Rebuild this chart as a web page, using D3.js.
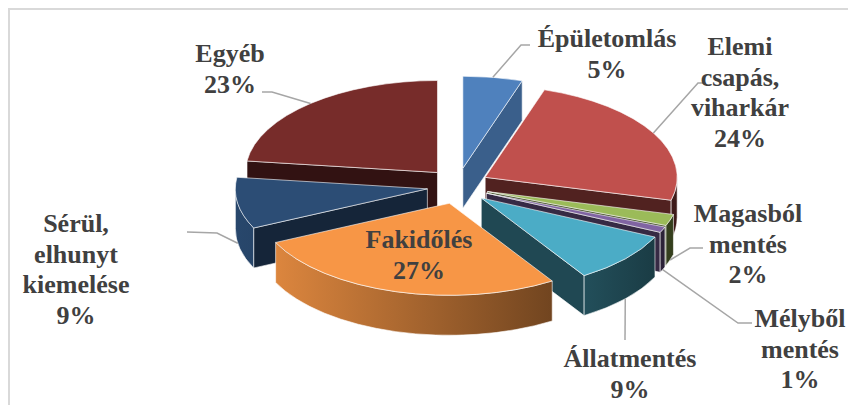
<!DOCTYPE html>
<html>
<head>
<meta charset="utf-8">
<script src="https://cdn.jsdelivr.net/npm/d3@7"></script>
<style>
  body { margin: 0; background: #fff; }
  .label { font-family: "Liberation Serif", "Times New Roman", serif; font-weight: bold; font-size: 26px; fill: #404040; }
</style>
</head>
<body>
<div id="chart"></div>
<script>
/*
Data (percent of calls)
*/
var categories = ["Épületomlás", "Elemi csapás, viharkár", "Magasból mentés", "Mélyből mentés",
	"Állatmentés", "Fakidőlés", "Sérül, elhunyt kiemelése", "Egyéb"];
var values = [5, 24, 2, 1, 9, 27, 9, 23];
var labelLines = [["Épületomlás"], ["Elemi", "csapás,", "viharkár"], ["Magasból", "mentés"],
	["Mélyből", "mentés"], ["Állatmentés"], ["Fakidőlés"], ["Sérül,", "elhunyt", "kiemelése"], ["Egyéb"]];
var colors = ["#4F81BD", "#C0504D", "#9BBB59", "#8064A2", "#4BACC6", "#F79646", "#2C4D75", "#772C2A"];

/*
Layout: label anchor (centre x, first baseline) and leader line bends
*/
var labelPos = [[607, 47], [740, 55], [748, 222], [800, 327], [630, 367], [419, 248], [76, 232], [230, 62]];
var leaderBends = [
	[[521, 45], [530, 45]],
	[[698, 83], [703, 83]],
	[[690, 248], [703, 248]],
	[[738, 323], [752, 323]],
	[[625, 340]],
	null,
	[[217, 233], [187, 232]],
	[[272, 92], [262, 92]]
];

var width = 848, height = 405;
var cx = 458, cy = 186, rx = 192, ry = 92, depth = 40;
var explodeX = 31, explodeY = 18;
var lineHeight = 30.5;

var svg = d3.select("#chart").append("svg")
	.attr("width", width)
	.attr("height", height);

// light frame of the chart area
svg.append("rect")
	.attr("x", 9).attr("y", 9)
	.attr("width", width + 20).attr("height", height + 20)
	.attr("fill", "none")
	.attr("stroke", "#d9d9d9")
	.attr("stroke-width", 2);

var defs = svg.append("defs");

var pie = d3.pie().sort(null).value(function(d) { return d; });
var arcs = pie(values).map(function(p, i) {
	var mid = (p.startAngle + p.endAngle) / 2;
	return {
		i: i, a0: p.startAngle, a1: p.endAngle, mid: mid,
		c: [cx + explodeX * Math.sin(mid), cy - explodeY * Math.cos(mid)]
	};
});

function rim(c, a, dy) {
	return [c[0] + rx * Math.sin(a), c[1] - ry * Math.cos(a) + (dy || 0)];
}

function shade(color, f) {
	var c = d3.rgb(color);
	return d3.rgb(c.r * f, c.g * f, c.b * f).formatHex();
}

// wall brightness: lighter on the left, darker on the right
var wallShade = d3.scaleLinear().domain([-1, 1]).range([0.92, 0.32]);

function radialShade(normal) {
	var s = Math.max(0, Math.sin(normal));
	return 0.42 + 0.35 * s * s;
}

function topPath(d) {
	var p0 = rim(d.c, d.a0), p1 = rim(d.c, d.a1);
	var large = (d.a1 - d.a0) > Math.PI ? 1 : 0;
	return "M" + d.c + "L" + p0 + "A" + rx + "," + ry + " 0 " + large + " 1 " + p1 + "Z";
}

function wallPath(d) {
	var s = Math.max(d.a0, Math.PI / 2), e = Math.min(d.a1, 3 * Math.PI / 2);
	if (s >= e) return null;
	return "M" + rim(d.c, s) + "A" + rx + "," + ry + " 0 0 1 " + rim(d.c, e) +
		"L" + rim(d.c, e, depth) + "A" + rx + "," + ry + " 0 0 0 " + rim(d.c, s, depth) + "Z";
}

function sidePath(d, a) {
	return "M" + d.c + "L" + rim(d.c, a) + "L" + rim(d.c, a, depth) +
		"L" + [d.c[0], d.c[1] + depth] + "Z";
}

// draw back slices first
var order = arcs.slice().sort(function(a, b) { return Math.cos(b.mid) - Math.cos(a.mid); });

var edge = "rgba(255,255,255,0.75)";

order.forEach(function(d) {
	var g = svg.append("g").attr("class", "slice");
	var base = colors[d.i];

	// radial side faces
	if (Math.sin(d.a0) < -1e-6) {
		g.append("path").attr("d", sidePath(d, d.a0))
			.attr("fill", shade(base, radialShade(d.a0 - Math.PI / 2)))
			.attr("stroke", edge).attr("stroke-width", 0.8);
	}
	if (Math.sin(d.a1) > 1e-6) {
		g.append("path").attr("d", sidePath(d, d.a1))
			.attr("fill", shade(base, radialShade(d.a1 + Math.PI / 2)))
			.attr("stroke", edge).attr("stroke-width", 0.8);
	}

	// outer wall with horizontal shading
	var wp = wallPath(d);
	if (wp) {
		var grad = defs.append("linearGradient")
			.attr("id", "wall" + d.i)
			.attr("gradientUnits", "userSpaceOnUse")
			.attr("x1", d.c[0] - rx).attr("x2", d.c[0] + rx)
			.attr("y1", 0).attr("y2", 0);
		grad.append("stop").attr("offset", 0).attr("stop-color", shade(base, wallShade(-1)));
		grad.append("stop").attr("offset", 1).attr("stop-color", shade(base, wallShade(1)));
		g.append("path").attr("d", wp)
			.attr("fill", "url(#wall" + d.i + ")")
			.attr("stroke", edge).attr("stroke-width", 0.8);
	}

	// top face
	g.append("path").attr("d", topPath(d))
		.attr("fill", base)
		.attr("stroke", edge).attr("stroke-width", 0.8);
});

/*
Leader lines
*/
arcs.forEach(function(d) {
	var bends = leaderBends[d.i];
	if (!bends) return;
	var start = Math.cos(d.mid) < 0 ? rim(d.c, d.mid, depth) : rim(d.c, d.mid);
	svg.append("path")
		.attr("d", d3.line()([start].concat(bends)))
		.attr("fill", "none")
		.attr("stroke", "#a6a6a6")
		.attr("stroke-width", 1.5);
});

/*
Labels
*/
arcs.forEach(function(d) {
	var lines = labelLines[d.i].concat([values[d.i] + "%"]);
	var t = svg.append("text")
		.attr("class", "label")
		.attr("text-anchor", "middle")
		.attr("x", labelPos[d.i][0])
		.attr("y", labelPos[d.i][1]);
	lines.forEach(function(s, k) {
		t.append("tspan")
			.attr("x", labelPos[d.i][0])
			.attr("y", labelPos[d.i][1] + k * lineHeight)
			.text(s);
	});
});
</script>
</body>
</html>
